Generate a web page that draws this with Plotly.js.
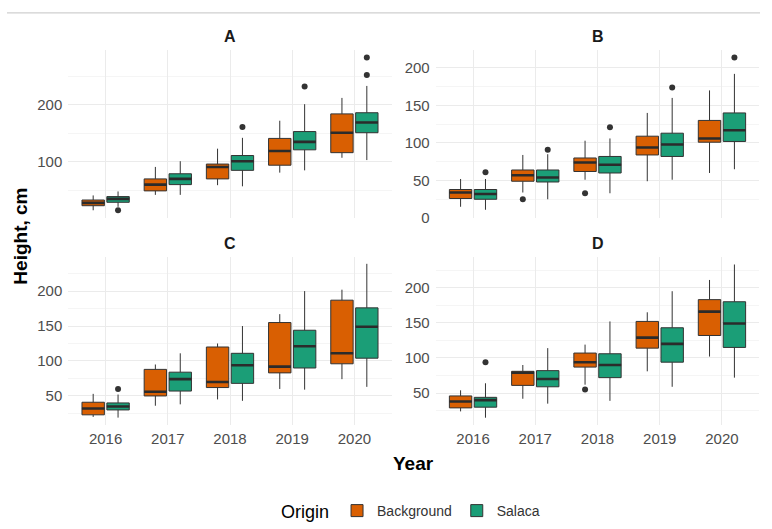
<!DOCTYPE html>
<html>
<head>
<meta charset="utf-8">
<script src="https://cdn.plot.ly/plotly-3.0.1.min.js"></script>
<style>
  html, body { margin: 0; padding: 0; background: #ffffff; }
  #chart { width: 772px; height: 529px; }
</style>
</head>
<body>
<div id="chart"></div>
<script>
// Tree height by planting year, split by site (A–D) and seed origin.
const years = [2016, 2017, 2018, 2019, 2020];
const origins = ['Background', 'Salaca'];

// Per year: [lower whisker, Q1, median, Q3, upper whisker], in cm
const A_background = [[15, 23, 28, 33, 41], [42, 49, 60, 70, 91], [59, 70, 91, 96, 123], [81, 94, 119, 141, 172], [107, 116, 151, 184, 212]];
const A_salaca     = [[21, 29, 35, 39, 48], [42, 60, 70, 79, 101], [57, 85, 101, 111, 142], [85, 121, 135, 153, 201], [103, 151, 169, 186, 233]];
const B_background = [[15, 26, 34, 38, 52], [34, 49, 57, 64, 84], [51, 62, 74, 80, 103], [49, 84, 94, 109, 140], [60, 101, 106, 130, 170]];
const B_salaca     = [[11, 25, 32, 38, 52], [25, 48, 54, 64, 85], [33, 60, 71, 82, 106], [51, 82, 98, 113, 160], [65, 102, 117, 140, 192]];
const C_background = [[20, 23, 32, 41, 53], [36, 50, 56, 88, 95], [45, 62, 70, 120, 125], [60, 83, 92, 155, 167], [74, 96, 111, 187, 202]];
const C_salaca     = [[19, 30, 35, 40, 52], [38, 57, 74, 84, 111], [43, 68, 94, 111, 150], [59, 90, 121, 144, 200], [63, 104, 149, 176, 239]];
const D_background = [[24, 29, 38, 46, 54], [42, 61, 79, 81, 90], [62, 87, 94, 107, 119], [81, 114, 129, 152, 165], [102, 132, 166, 183, 211]];
const D_salaca     = [[15, 30, 40, 44, 64], [35, 59, 70, 82, 114], [39, 72, 90, 106, 152], [59, 94, 120, 143, 195], [72, 115, 149, 180, 233]];

// Outlying trees: [year, height]
const A_background_out = [];
const A_salaca_out     = [[2016, 15], [2018, 161], [2019, 232], [2020, 252], [2020, 283]];
const B_background_out = [[2017, 25], [2018, 33]];
const B_salaca_out     = [[2016, 61], [2017, 91], [2018, 121], [2019, 174], [2020, 214]];
const C_background_out = [];
const C_salaca_out     = [[2016, 60]];
const D_background_out = [[2018, 55]];
const D_salaca_out     = [[2016, 94]];

const fills = { Background: '#D95F02', Salaca: '#1B9E77' };
const dodge = { Background: -0.2, Salaca: 0.2 };
const boxWidth = 0.36;
const ink = '#333333';

const panels = [
  { label: 'A', xa: 'x',  ya: 'y',  data: { Background: [A_background, A_background_out], Salaca: [A_salaca, A_salaca_out] } },
  { label: 'B', xa: 'x2', ya: 'y2', data: { Background: [B_background, B_background_out], Salaca: [B_salaca, B_salaca_out] } },
  { label: 'C', xa: 'x3', ya: 'y3', data: { Background: [C_background, C_background_out], Salaca: [C_salaca, C_salaca_out] } },
  { label: 'D', xa: 'x4', ya: 'y4', data: { Background: [D_background, D_background_out], Salaca: [D_salaca, D_salaca_out] } }
];

const traces = [];
panels.forEach((p, pi) => {
  origins.forEach(o => {
    const [stats, outs] = p.data[o];
    const pos = years.map((y, i) => i + 1 + dodge[o]);
    traces.push({
      type: 'box', name: o, legendgroup: o, showlegend: pi === 0,
      orientation: 'v',
      xaxis: p.xa, yaxis: p.ya,
      x: pos,
      lowerfence: stats.map(s => s[0]),
      q1: stats.map(s => s[1]),
      median: stats.map(s => s[2]),
      q3: stats.map(s => s[3]),
      upperfence: stats.map(s => s[4]),
      width: boxWidth, whiskerwidth: 0, boxpoints: false,
      fillcolor: fills[o], line: { color: ink, width: 1 },
      hoverinfo: 'skip'
    });
    // thicker median bar
    const mx = [], my = [];
    stats.forEach((s, i) => {
      mx.push(pos[i] - boxWidth / 2, pos[i] + boxWidth / 2, null);
      my.push(s[2], s[2], null);
    });
    traces.push({
      type: 'scatter', mode: 'lines', x: mx, y: my, xaxis: p.xa, yaxis: p.ya,
      line: { color: '#2B2B2B', width: 2.6 }, showlegend: false, hoverinfo: 'skip'
    });
    if (outs.length) {
      traces.push({
        type: 'scatter', mode: 'markers', xaxis: p.xa, yaxis: p.ya,
        x: outs.map(d => years.indexOf(d[0]) + 1 + dodge[o]),
        y: outs.map(d => d[1]),
        marker: { color: ink, size: 6 }, showlegend: false, hoverinfo: 'skip'
      });
    }
  });
});

const W = 772, H = 529;
const colL = [68.3 / W, 391.7 / W];
const colR = [435.7 / W, 759.3 / W];
const rowT = [1 - 219.5 / H, 1 - 50 / H];
const rowB = [1 - 427.8 / H, 1 - 258.3 / H];

const family = 'Liberation Sans, Arial, sans-serif';
const tickFont = { family: family, size: 15, color: '#4D4D4D' };
const grid = '#EBEBEB';

function xAxis(domain, anchor, labels) {
  return {
    domain: domain, anchor: anchor, range: [0.4, 5.6],
    tickmode: 'array', tickvals: years.map((y, i) => i + 1), ticktext: years.map(String),
    showticklabels: labels, ticks: '', ticklabelstandoff: 3,
    showgrid: true, gridcolor: grid, gridwidth: 1,
    zeroline: false, showline: false, tickfont: tickFont, fixedrange: true
  };
}
function yAxis(domain, anchor, range, major, minor) {
  return {
    domain: domain, anchor: anchor, range: range,
    tickmode: 'linear', tick0: 0, dtick: major,
    minor: { tickmode: 'linear', tick0: 0, dtick: minor, showgrid: true, gridcolor: '#F1F1F1', gridwidth: 0.7 },
    ticks: '', ticklabelstandoff: 5,
    showgrid: true, gridcolor: grid, gridwidth: 1,
    zeroline: false, showline: false, tickfont: tickFont, fixedrange: true
  };
}

const stripFont = { family: family, size: 16, color: '#1A1A1A', weight: 'bold' };
const titleFont = { family: family, size: 19, color: '#000000', weight: 'bold' };
function note(text, px, py, font, angle) {
  return { text: text, xref: 'paper', yref: 'paper', x: px / W, y: 1 - py / H,
           xanchor: 'center', yanchor: 'middle', showarrow: false, font: font, textangle: angle || 0 };
}

const layout = {
  width: W, height: H,
  margin: { l: 0, r: 0, t: 0, b: 0 },
  paper_bgcolor: '#ffffff', plot_bgcolor: 'rgba(0,0,0,0)',
  boxmode: 'overlay',
  xaxis:  xAxis(colL, 'y', false),
  xaxis2: xAxis(colR, 'y2', false),
  xaxis3: xAxis(colL, 'y3', true),
  xaxis4: xAxis(colR, 'y4', true),
  yaxis:  yAxis(rowT, 'x',  [1, 296.5], 100, 50),
  yaxis2: yAxis(rowT, 'x2', [-0.3, 224.2], 50, 25),
  yaxis3: yAxis(rowB, 'x3', [7.9, 249], 50, 25),
  yaxis4: yAxis(rowB, 'x4', [4.1, 243.9], 50, 25),
  annotations: [
    note('A', 230, 37, stripFont),
    note('B', 597.5, 37, stripFont),
    note('C', 230, 245, stripFont),
    note('D', 597.5, 245, stripFont),
    note('Height, cm', 21, 238, titleFont, -90),
    note('Year', 413.8, 466, titleFont)
  ],
  shapes: [
    { type: 'line', xref: 'paper', yref: 'paper', x0: 7 / W, x1: 760 / W, y0: 1 - 13 / H, y1: 1 - 13 / H, line: { color: '#CFCFCF', width: 1.3 } }
  ],
  legend: {
    orientation: 'h', x: 0.5337, xanchor: 'center', y: 1 - 515 / H, yanchor: 'middle',
    title: { text: 'Origin', side: 'left', font: { family: family, size: 18, color: '#000000' } },
    font: { family: family, size: 14, color: '#333333' },
    bgcolor: 'rgba(0,0,0,0)', itemclick: false
  },
  showlegend: true
};

Plotly.newPlot('chart', traces, layout, { staticPlot: true, displayModeBar: false });
</script>
</body>
</html>
